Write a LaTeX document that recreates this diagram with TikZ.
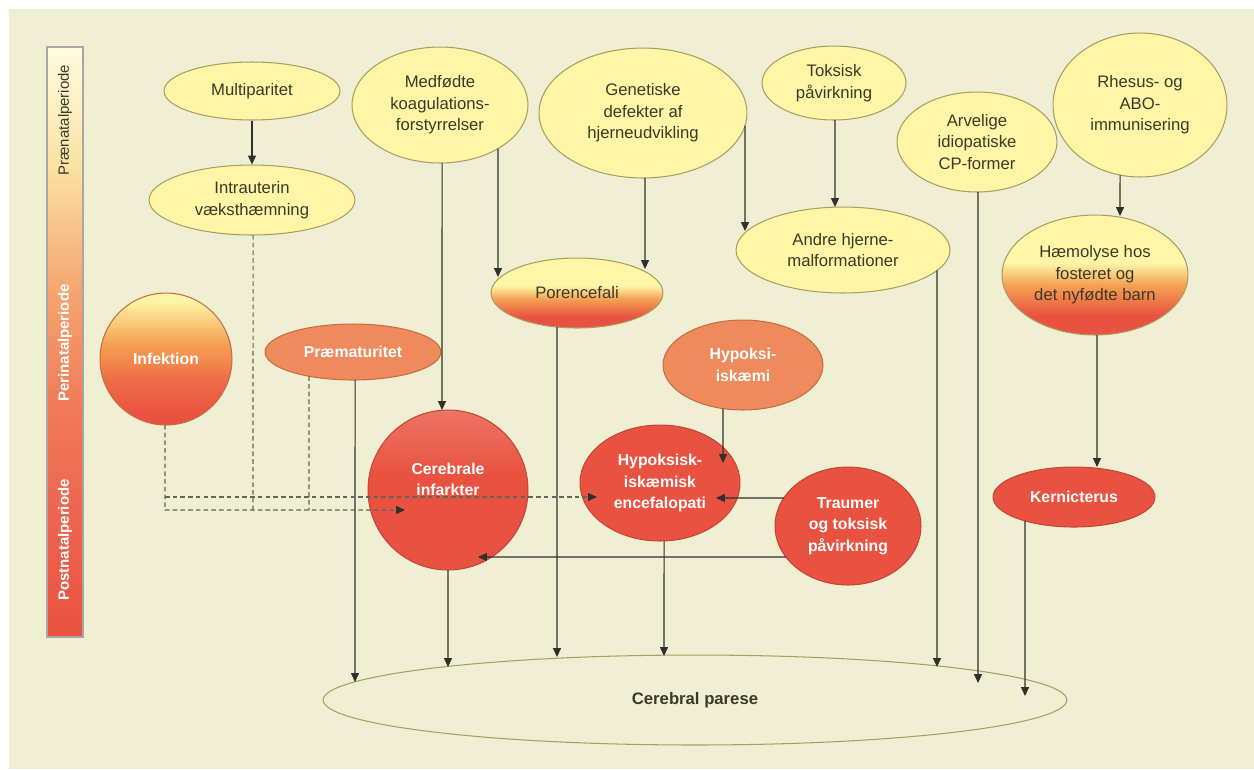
\documentclass[tikz,border=0pt]{standalone}
\usepackage{fontspec}
\setmainfont{Liberation Sans}
\usetikzlibrary{shapes.geometric,arrows.meta,intersections}
\definecolor{bg}{RGB}{240,239,212}
\definecolor{yel}{RGB}{255,245,166}
\definecolor{yelb}{RGB}{172,158,98}
\definecolor{redf}{RGB}{233,82,64}
\definecolor{redb}{RGB}{196,70,52}
\definecolor{sal}{RGB}{238,138,92}
\definecolor{salb}{RGB}{196,110,70}
\definecolor{org}{RGB}{245,162,82}
\definecolor{orgred}{RGB}{238,108,70}
\definecolor{txt}{RGB}{58,58,40}
\definecolor{lc}{RGB}{48,48,44}
\definecolor{dc}{RGB}{100,100,88}
\definecolor{ba}{RGB}{255,252,224}
\definecolor{bb}{RGB}{251,226,165}
\definecolor{bc}{RGB}{245,168,114}
\definecolor{bd}{RGB}{240,124,90}
\definecolor{be}{RGB}{236,100,80}
\pgfdeclareverticalshading{yr}{100bp}{color(0bp)=(redf); color(33bp)=(redf); color(46bp)=(org); color(55bp)=(yel); color(100bp)=(yel)}
\pgfdeclareverticalshading{infs}{100bp}{color(0bp)=(redf); color(29bp)=(redf); color(42bp)=(orgred); color(56bp)=(org); color(72bp)=(yel); color(100bp)=(yel)}
\pgfdeclareverticalshading{cers}{100bp}{color(0bp)=(redf); color(55bp)=(redf); color(75bp)=(redf!80!white); color(100bp)=(redf!80!white)}
\pgfdeclareverticalshading{bars}{100bp}{color(0bp)=(redf); color(25bp)=(redf); color(35bp)=(be); color(45bp)=(bd); color(55bp)=(bc); color(65bp)=(bb); color(75bp)=(ba); color(100bp)=(ba)}
\newcommand\cn[4][arr]{\path[name path=cnp] #3;\draw[#1, name intersections={of=cnp and #2}] (intersection-1) #4;}
\begin{document}
\begin{tikzpicture}[x=0.02cm,y=-0.02cm,
  base/.style={ellipse, inner sep=0pt, align=center, line width=0.6pt,
    font=\fontsize{9.5}{12.3}\selectfont},
  yn/.style={base, draw=yelb, fill=yel, text=txt},
  yrn/.style={base, draw=yelb, shade, shading=yr, text=txt},
  rn/.style={base, draw=redb, fill=redf, text=white,
    font=\bfseries\fontsize{9}{12.3}\selectfont},
  sn/.style={base, draw=salb, fill=sal, text=white,
    font=\bfseries\fontsize{9}{12.3}\selectfont},
  sz/.style 2 args={minimum width=#1*0.04cm, minimum height=#2*0.04cm},
  arr/.style={draw=lc, line width=0.6pt, -{Triangle[length=5pt,width=4.5pt]}},
  dsh/.style={draw=dc, line width=0.6pt, dash pattern=on 2.6pt off 1.8pt},
  darr/.style={dsh, -{Triangle[length=5pt,width=4.5pt,color=lc,fill=lc]}},
  bartxt/.style={rotate=90, font=\fontsize{8.5}{10}\selectfont, inner sep=0pt}]
\fill[white] (0,0) rectangle (1254,769);
\fill[bg] (9,9) rectangle (1254,769);
\useasboundingbox (0,0) rectangle (1254,769);
% period bar
\node[draw=gray!70, line width=0.6pt, shade, shading=bars, minimum width=36*0.02cm, minimum height=590*0.02cm, inner sep=0pt] (bar) at (65,342) {};
\node[bartxt, text=txt] (pre) at (65,120) {Prænatalperiode};
\node[bartxt, text=white, font=\bfseries\fontsize{8.5}{10}\selectfont] (peri) at (65,343) {Perinatalperiode};
\node[bartxt, text=white, font=\bfseries\fontsize{8.5}{10}\selectfont] (post) at (65,540) {Postnatalperiode};
% nodes
\node[yn, sz={88}{29}, name path=multi] (multi) at (252,91) {Multiparitet};
\node[yn, sz={103}{35}, name path=intra] (intra) at (252,200) {Intrauterin\\væksthæmning};
\node[yn, sz={88}{58}, name path=medf] (medf) at (440,105) {Medfødte\\koagulations-\\forstyrrelser};
\node[yn, sz={104}{65}, name path=gen] (gen) at (643,113) {Genetiske\\defekter af\\hjerneudvikling};
\node[yrn, sz={86}{35}, name path=poren] (poren) at (577,293) {Porencefali};
\node[yn, sz={72}{37}, name path=toks] (toks) at (834,83) {Toksisk\\påvirkning};
\node[yn, sz={107}{43}, name path=andre] (andre) at (843,250) {Andre hjerne-\\malformationer};
\node[yn, sz={80}{50}, name path=arv] (arv) at (977,142) {Arvelige\\idiopatiske\\CP-former};
\node[yn, sz={87}{72}, name path=rh] (rh) at (1140,105) {Rhesus- og\\ABO-\\immunisering};
\node[yrn, sz={93}{60}, name path=haem] (haem) at (1095,275) {Hæmolyse hos\\fosteret og\\det nyfødte barn};
\node[base, draw=salb, shade, shading=infs, text=white, font=\bfseries\fontsize{9}{12.3}\selectfont, sz={66}{66}, name path=inf] (inf) at (166,359) {Infektion};
\node[sn, sz={88}{28}, name path=prem] (prem) at (353,352) {Præmaturitet};
\node[sn, sz={80}{45}, name path=hypi] (hypi) at (743,365) {Hypoksi-\\iskæmi};
\node[rn, shade, shading=cers, sz={80}{80}, name path=cer] (cer) at (448,490) {Cerebrale\\infarkter\\\mbox{}};
\node[rn, sz={80}{58}, name path=hie] (hie) at (660,483) {Hypoksisk-\\iskæmisk\\encefalopati};
\node[rn, sz={73}{59}, name path=traum] (traum) at (848,526) {Traumer\\og toksisk\\påvirkning};
\node[rn, sz={81}{30}, name path=kern] (kern) at (1074,497) {Kernicterus};
\node[base, draw=yelb, fill=bg, text=txt, font=\bfseries\fontsize{9.5}{12}\selectfont, sz={372}{45}] (cp) at (695,700) {Cerebral parese};
% solid connectors
\draw[arr] (multi) -- (intra);
\cn{medf}{(498,105) -- (498,200)}{-- (498,277)}
\cn{gen}{(645,113) -- (645,220)}{-- (645,269)}
\cn{medf}{(442,105) -- (442,200)}{-- (442,410)}
\cn{gen}{(745,113) -- (745,200)}{-- (745,231)}
\cn{toks}{(835,83) -- (835,150)}{-- (835,207)}
\cn{rh}{(1120,105) -- (1120,200)}{-- (1120,216)}
\cn{haem}{(1097,275) -- (1097,400)}{-- (1097,467)}
\cn{hypi}{(723,365) -- (723,430)}{-- (723,463)}
\cn{traum}{(848,498) -- (760,498)}{-- (716,498)}
\cn{traum}{(848,557) -- (700,557)}{-- (478,557)}
\cn{prem}{(355,352) -- (355,450)}{-- (355,682)}
\cn{cer}{(448,490) -- (448,620)}{-- (448,667)}
\cn{poren}{(557,293) -- (557,400)}{-- (557,657)}
\cn{hie}{(664,483) -- (664,620)}{-- (664,656)}
\cn{andre}{(937,250) -- (937,400)}{-- (937,667)}
\cn{arv}{(978,142) -- (978,300)}{-- (978,683)}
\cn{kern}{(1025,497) -- (1025,600)}{-- (1025,696)}
% dashed connectors
\coordinate (j1) at (165,497);
\cn[darr]{inf}{(165,359) -- (165,460)}{-- (165,510) -- (405,510)}
\draw[darr] (j1) -- (597,497);
\cn[dsh]{intra}{(253,200) -- (253,300)}{-- (253,510)}
\cn[dsh]{prem}{(309,352) -- (309,420)}{-- (309,510)}
\end{tikzpicture}
\end{document}
